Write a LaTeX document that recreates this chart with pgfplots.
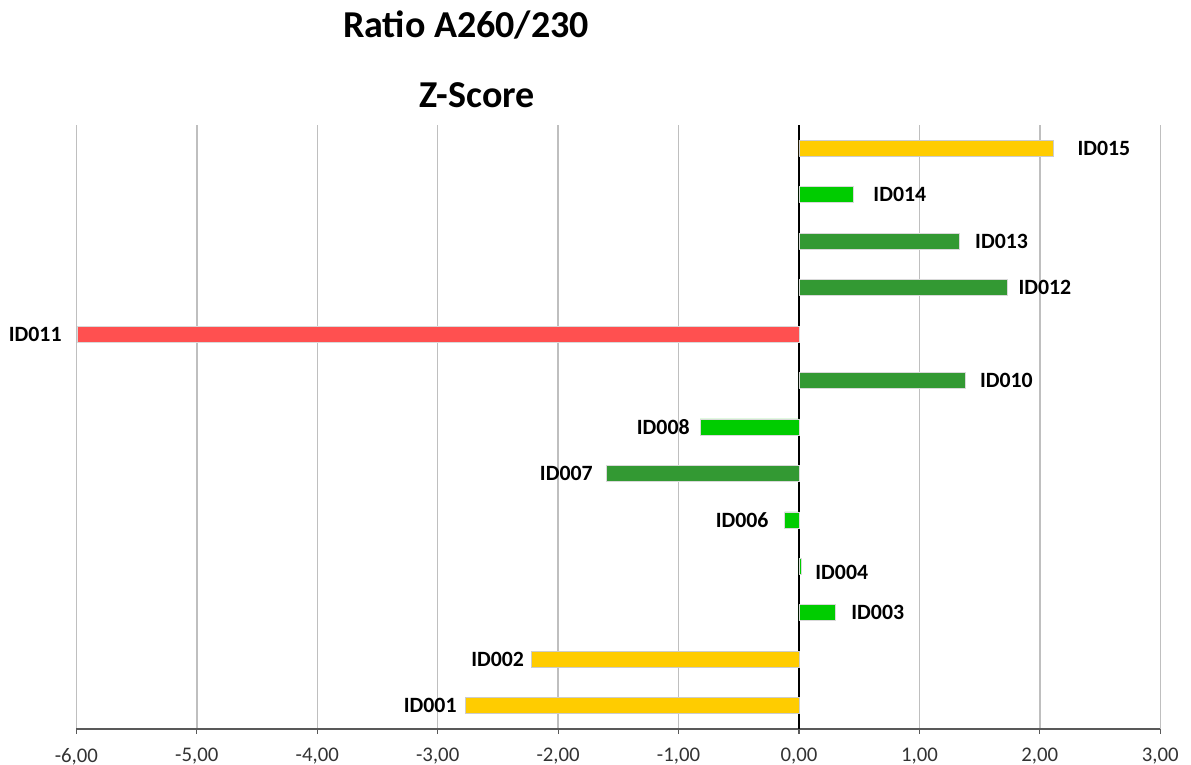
\documentclass[border=0pt]{standalone}
\usepackage{pgfplots}
\pgfplotsset{compat=1.18}
\usepackage{pgfplotstable}
\usepackage{fontspec}
\setmainfont{Carlito}
\definecolor{cyellow}{HTML}{FFCC00}
\definecolor{cgreen}{HTML}{00CC00}
\definecolor{cdgreen}{HTML}{339933}
\definecolor{cred}{HTML}{FF5050}
\definecolor{cgrid}{HTML}{BFBFBF}

% bars: y = row (ID001 = 0 ... ID015 = 12), x = Z-score
\pgfplotstableread{
y x
12 2.11
1 -2.22
0 -2.77
}\yellowdata
\pgfplotstableread{
y x
11 0.45
6 -0.82
4 -0.12
3 0.02
2 0.30
}\greendata
\pgfplotstableread{
y x
10 1.33
9 1.73
7 1.38
5 -1.60
}\dgreendata
\pgfplotstableread{
y x
8 -5.99
}\reddata
% label positions
\pgfplotstableread{
y x lab
12 2.31 ID015
11 0.615 ID014
10 1.46 ID013
9 1.82 ID012
7 1.50 ID010
2.87 0.133 ID004
2 0.432 ID003
}\labright
\pgfplotstableread{
y x lab
8 -6.12 ID011
6 -0.905 ID008
5 -1.71 ID007
4 -0.25 ID006
1 -2.28 ID002
0 -2.84 ID001
}\lableft

\begin{document}
\begin{tikzpicture}
\begin{axis}[
  scale only axis, width=541.95pt, height=302pt,
  xmin=-6, xmax=3, ymin=-0.5, ymax=12.5,
  clip=false,
  axis x line*=bottom, axis y line=none,
  x axis line style={-, draw=black!65, line width=0.75pt},
  xtick={-6,-5,...,3},
  tick align=outside, major tick length=2.5pt,
  x tick style={draw=black!65, line width=0.6pt},
  xmajorgrids, major grid style={cgrid, line width=0.75pt},
  extra x ticks={0}, extra x tick labels={},
  extra x tick style={major grid style={black, line width=1.1pt}, major tick length=0pt},
  x tick label style={font=\fontsize{10.4}{12}\selectfont, text=black!80, yshift=-3.5pt, /pgf/number format/assume math mode=true},
  xticklabel={\pgfmathprintnumber[fixed, fixed zerofill, precision=2, use comma]{\tick}},
  bar width=8pt,
]
\addplot[xbar, bar shift=0pt, fill=cyellow, draw=black!20, line width=0.4pt] table[x=x,y=y] {\yellowdata};
\addplot[xbar, bar shift=0pt, fill=cgreen, draw=black!15, line width=0.4pt] table[x=x,y=y] {\greendata};
\addplot[xbar, bar shift=0pt, fill=cdgreen, draw=black!15, line width=0.4pt] table[x=x,y=y] {\dgreendata};
\addplot[xbar, bar shift=0pt, fill=cred, draw=black!15, line width=0.4pt] table[x=x,y=y] {\reddata};
\addplot[draw=none, mark=none, nodes near coords, point meta=explicit symbolic,
  nodes near coords align=west,
  every node near coord/.append style={anchor=west, inner sep=0pt, font=\fontsize{10.9}{12}\selectfont\bfseries, text=black}]
  table[x=x,y=y,meta=lab] {\labright};
\addplot[draw=none, mark=none, nodes near coords, point meta=explicit symbolic,
  nodes near coords align=east,
  every node near coord/.append style={anchor=east, inner sep=0pt, font=\fontsize{10.9}{12}\selectfont\bfseries, text=black}]
  table[x=x,y=y,meta=lab] {\lableft};
\coordinate (bl) at (rel axis cs:0,0);
\end{axis}
\node[font=\fontsize{19}{23}\selectfont\bfseries, anchor=base, inner sep=0pt] at ([shift={(194.8pt,345.5pt)}]bl) {Ratio A260/230};
\node[font=\fontsize{19}{23}\selectfont\bfseries, anchor=base, inner sep=0pt] at ([shift={(200.3pt,310.5pt)}]bl) {Z-Score};
\pgfresetboundingbox
\path[use as bounding box] ([shift={(-38.2pt,-18pt)}]bl) rectangle ([shift={(557.3pt,364.5pt)}]bl);
\end{tikzpicture}
\end{document}
